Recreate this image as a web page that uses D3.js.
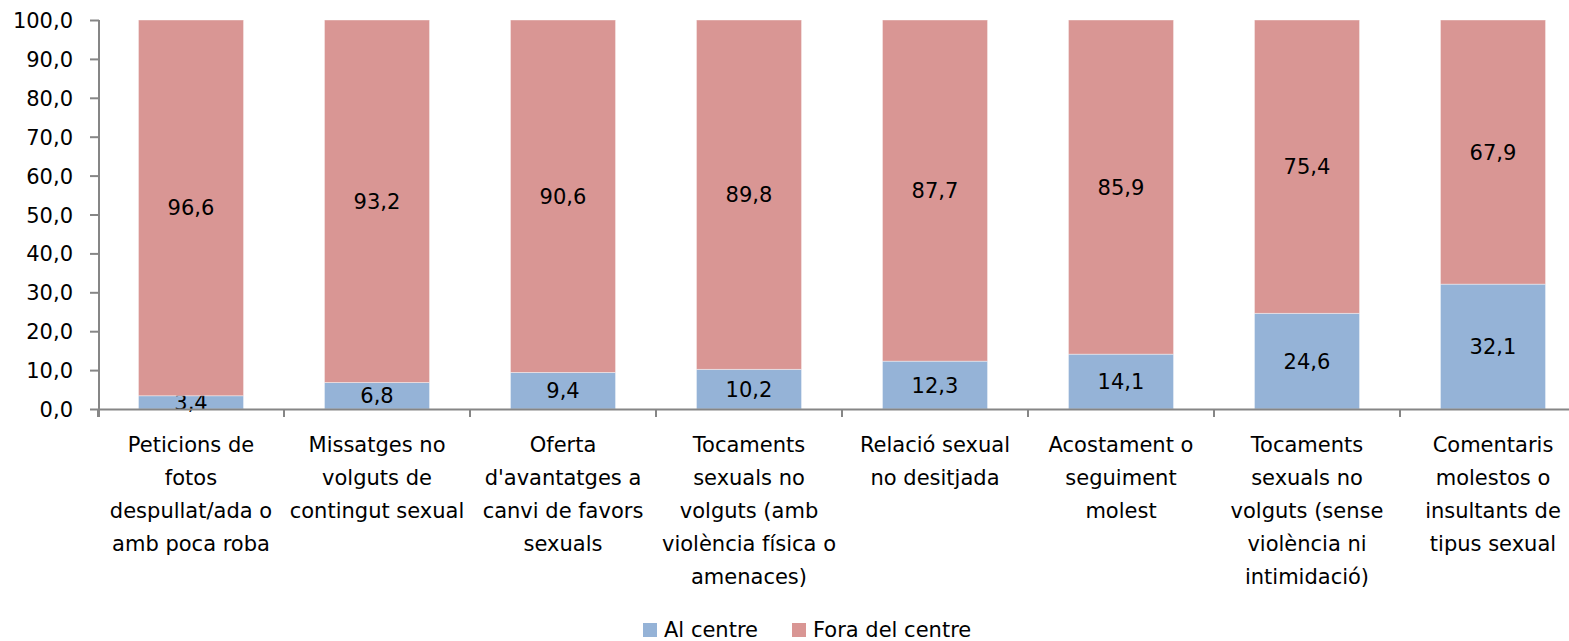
<!DOCTYPE html>
<html>
<head>
<meta charset="utf-8">
<script src="https://cdn.jsdelivr.net/npm/d3@7"></script>
<style>
  body { margin: 0; background: #fff; }
  svg text { font-family: "DejaVu Sans", sans-serif; fill: #000; }
</style>
</head>
<body>
<div id="chart"></div>
<script>
// data
var categories = [
  ["Peticions de", "fotos", "despullat/ada o", "amb poca roba"],
  ["Missatges no", "volguts de", "contingut sexual"],
  ["Oferta", "d'avantatges a", "canvi de favors", "sexuals"],
  ["Tocaments", "sexuals no", "volguts (amb", "violència física o", "amenaces)"],
  ["Relació sexual", "no desitjada"],
  ["Acostament o", "seguiment", "molest"],
  ["Tocaments", "sexuals no", "volguts (sense", "violència ni", "intimidació)"],
  ["Comentaris", "molestos o", "insultants de", "tipus sexual"]
];
var alCentre = [3.4, 6.8, 9.4, 10.2, 12.3, 14.1, 24.6, 32.1];
var foraCentre = [96.6, 93.2, 90.6, 89.8, 87.7, 85.9, 75.4, 67.9];
var seriesNames = ["Al centre", "Fora del centre"];
var yTicks = [0, 10, 20, 30, 40, 50, 60, 70, 80, 90, 100];

var colors = ["#95b3d7", "#d99694"];
var W = 1569, H = 641;
var mLeft = 98, mTop = 20, mBottom = 409, step = 186;

var svg = d3.select("#chart").append("svg")
  .attr("width", W).attr("height", H);

var idx = d3.range(categories.length);
var x = d3.scaleBand()
  .domain(idx)
  .range([mLeft, mLeft + step * categories.length])
  .paddingInner(0.435)
  .paddingOuter(0.2175);
var y = d3.scaleLinear().domain([0, 100]).range([mBottom, mTop]);

var fmt = function(v) { return d3.format(".1f")(v).replace(".", ","); };

// stacked bars
var stackData = idx.map(function(i) { return { i: i, a: alCentre[i], b: foraCentre[i] }; });
var stack = d3.stack().keys(["a", "b"])(stackData);

var layers = svg.selectAll(".layer")
  .data(stack)
  .enter().append("g")
  .attr("class", "layer")
  .attr("fill", function(d, k) { return colors[k]; });

layers.selectAll("rect")
  .data(function(d) { return d; })
  .enter().append("rect")
  .attr("x", function(d) { return x(d.data.i); })
  .attr("width", x.bandwidth())
  .attr("y", function(d) { return y(d[1]); })
  .attr("height", function(d) { return y(d[0]) - y(d[1]); })
  .attr("stroke", "#ffffff")
  .attr("stroke-opacity", 0.5)
  .attr("stroke-width", 0.8);

// value labels
layers.selectAll("text")
  .data(function(d) { return d; })
  .enter().append("text")
  .attr("x", function(d) { return x(d.data.i) + x.bandwidth() / 2; })
  .attr("y", function(d) { return (y(d[0]) + y(d[1])) / 2; })
  .attr("dy", "0.36em")
  .attr("text-anchor", "middle")
  .attr("font-size", "21px")
  .text(function(d) { return fmt(d[1] - d[0]); });

// y axis
var yAxis = svg.append("g")
  .attr("transform", "translate(" + (mLeft + 1) + ",0)")
  .call(d3.axisLeft(y).tickValues(yTicks).tickFormat(fmt).tickSize(9).tickPadding(17));
yAxis.selectAll("text").attr("font-size", "21px").attr("dy", "0.36em");

// x axis with ticks at category boundaries
var xa = svg.append("g").attr("class", "xaxis");
xa.append("line")
  .attr("x1", mLeft).attr("x2", mLeft + step * categories.length)
  .attr("y1", mBottom + 0.5).attr("y2", mBottom + 0.5);
xa.selectAll(".tk")
  .data(d3.range(categories.length + 1))
  .enter().append("line")
  .attr("x1", function(i) { return mLeft + step * i; })
  .attr("x2", function(i) { return mLeft + step * i; })
  .attr("y1", mBottom).attr("y2", mBottom + 8);

svg.selectAll(".domain, .tick line, .xaxis line")
  .attr("stroke", "#868686").attr("stroke-width", 2);
yAxis.select(".domain").attr("d", "M0," + mTop + "V" + (mBottom + 8));

// category labels
var lbl = svg.selectAll(".cat")
  .data(idx)
  .enter().append("text")
  .attr("class", "cat")
  .attr("text-anchor", "middle")
  .attr("font-size", "21px")
  .attr("x", function(i) { return x(i) + x.bandwidth() / 2; })
  .attr("y", 452);
lbl.selectAll("tspan")
  .data(function(i) { return categories[i]; })
  .enter().append("tspan")
  .attr("x", function() { return d3.select(this.parentNode).attr("x"); })
  .attr("dy", function(d, j) { return j === 0 ? 0 : 33; })
  .text(function(d) { return d; });

// legend
var legX = [643, 792];
var leg = svg.selectAll(".leg")
  .data(seriesNames)
  .enter().append("g")
  .attr("class", "leg")
  .attr("transform", function(d, k) { return "translate(" + legX[k] + ",623)"; });
leg.append("rect")
  .attr("width", 14).attr("height", 14)
  .attr("fill", function(d, k) { return colors[k]; });
leg.append("text")
  .attr("x", 21).attr("y", 14)
  .attr("font-size", "21px")
  .text(function(d) { return d; });
</script>
</body>
</html>
